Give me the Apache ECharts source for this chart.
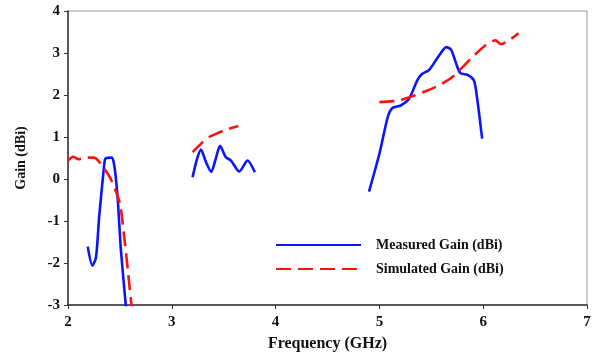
<!DOCTYPE html>
<html>
<head>
<meta charset="utf-8">
<script src="https://cdn.jsdelivr.net/npm/echarts@6/dist/echarts.min.js"></script>
<style>html,body{margin:0;padding:0;background:#fff}#c{width:598px;height:360px}</style>
</head>
<body>
<div id="c"></div>
<script>
var measured1 = [[2.19,-1.61],[2.235,-2.06],[2.27,-1.86],[2.30,-0.91],[2.34,0.13],[2.355,0.45],[2.37,0.50],[2.42,0.51],[2.44,0.40],[2.46,0.05],[2.48,-0.51],[2.51,-1.7],[2.56,-3.1]];
var measured2 = [[3.20,0.04],[3.24,0.45],[3.28,0.70],[3.33,0.40],[3.38,0.17],[3.42,0.45],[3.465,0.79],[3.52,0.52],[3.57,0.44],[3.65,0.18],[3.73,0.44],[3.80,0.16]];
var measured3 = [[4.90,-0.30],[5.0,0.6],[5.08,1.47],[5.125,1.69],[5.205,1.75],[5.285,1.91],[5.365,2.35],[5.41,2.50],[5.48,2.60],[5.575,2.94],[5.645,3.14],[5.69,3.08],[5.735,2.78],[5.78,2.52],[5.85,2.48],[5.91,2.35],[5.94,1.95],[5.99,0.96]];
var simulated1 = [[2.0,0.44],[2.05,0.53],[2.1,0.47],[2.17,0.51],[2.25,0.51],[2.34,0.28],[2.42,-0.04],[2.50,-0.59],[2.545,-1.46],[2.58,-2.25],[2.615,-3.1]];
var simulated2 = [[3.20,0.64],[3.29,0.86],[3.36,1.0],[3.43,1.08],[3.52,1.17],[3.64,1.26]];
var simulated3 = [[5.0,1.83],[5.19,1.87],[5.445,2.09],[5.575,2.23],[5.70,2.42],[5.895,2.90],[6.02,3.18],[6.12,3.30],[6.17,3.21],[6.34,3.47]];
var xTicks = [2,3,4,5,6,7];
var yTicks = [-3,-2,-1,0,1,2,3,4];
var seriesNames = ['Measured Gain (dBi)','Simulated Gain (dBi)'];

var font = '"Liberation Serif","Times New Roman",serif';
var blue = '#0a14ff', red = '#ff1010';
function mk(name, data, color, dashed){
  return {name:name, type:'line', data:data, smooth:0.25, symbol:'none', clip:true,
    lineStyle:{color:color, width:2.6, type: dashed ? [15,7] : 'solid'},
    itemStyle:{color:color}};
}
var chart = echarts.init(document.getElementById('c'), null, {renderer:'canvas'});
chart.setOption({
  animation:false,
  grid:{left:68, right:11, top:11, bottom:55, show:true, borderColor:'#999', borderWidth:1},
  legend:{
    data:seriesNames, orient:'vertical', left:270, top:233, itemWidth:85, itemHeight:10, itemGap:10,
    itemStyle:{opacity:0},
    textStyle:{fontFamily:font, fontWeight:'bold', fontSize:14, color:'#111', padding:[0,0,0,10]}
  },
  xAxis:{type:'value', min:xTicks[0], max:xTicks[xTicks.length-1], interval:1,
    axisLine:{onZero:false, lineStyle:{color:'#333', width:1.5}}, axisTick:{show:true, length:4, lineStyle:{color:'#333'}},
    splitLine:{show:false},
    axisLabel:{fontFamily:font, fontWeight:'bold', fontSize:15, color:'#111', margin:10},
    name:'Frequency (GHz)', nameLocation:'middle', nameGap:31,
    nameTextStyle:{fontFamily:font, fontWeight:'bold', fontSize:16, color:'#111'}},
  yAxis:{type:'value', min:yTicks[0], max:yTicks[yTicks.length-1], interval:1,
    axisLine:{show:true, onZero:false, lineStyle:{color:'#333', width:1.5}}, axisTick:{show:true, length:4, lineStyle:{color:'#333'}},
    splitLine:{show:false},
    axisLabel:{fontFamily:font, fontWeight:'bold', fontSize:15, color:'#111', margin:8},
    name:'Gain (dBi)', nameLocation:'middle', nameGap:40, nameRotate:90,
    nameTextStyle:{fontFamily:font, fontWeight:'bold', fontSize:14, color:'#111'}},
  series:[
    mk(seriesNames[0], measured1, blue, false),
    mk(seriesNames[0], measured2, blue, false),
    mk(seriesNames[0], measured3, blue, false),
    mk(seriesNames[1], simulated1, red, true),
    mk(seriesNames[1], simulated2, red, true),
    mk(seriesNames[1], simulated3, red, true)
  ]
});
</script>
</body>
</html>
